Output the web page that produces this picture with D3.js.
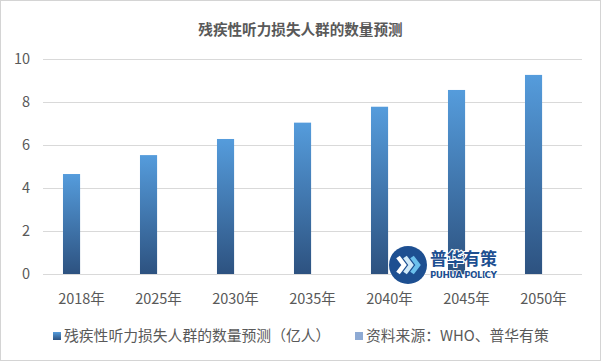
<!DOCTYPE html>
<html>
<head>
<meta charset="utf-8">
<script src="https://cdn.jsdelivr.net/npm/d3@7"></script>
<style>
  html, body { margin: 0; padding: 0; background: #fff; }
  svg text { font-family: "Noto Sans CJK SC", "Microsoft YaHei", sans-serif; fill: #595959; }
</style>
</head>
<body>
<div id="chart"></div>
<script>
const years = ["2018年", "2025年", "2030年", "2035年", "2040年", "2045年", "2050年"];
const values = [4.65, 5.53, 6.28, 7.04, 7.78, 8.56, 9.26];
const seriesNames = ["残疾性听力损失人群的数量预测（亿人）", "资料来源：WHO、普华有策"];
const yTicks = [0, 2, 4, 6, 8, 10];
const chartTitle = "残疾性听力损失人群的数量预测";

const width = 601, height = 361;
const plotLeft = 43, plotRight = 582, plotTop = 59, plotBottom = 274;

const svg = d3.select("#chart").append("svg")
  .attr("width", width)
  .attr("height", height);

const defs = svg.append("defs");
const grad = defs.append("linearGradient")
  .attr("id", "barGrad")
  .attr("x1", 0).attr("y1", 0).attr("x2", 0).attr("y2", 1);
grad.append("stop").attr("offset", "0%").attr("stop-color", "#559cdc");
grad.append("stop").attr("offset", "100%").attr("stop-color", "#2d5280");

// frame
svg.append("rect")
  .attr("x", 0.5).attr("y", 0.5)
  .attr("width", width - 1).attr("height", height - 1)
  .attr("fill", "#fff")
  .attr("stroke", "#d4d4d4");

const x = d3.scaleBand().domain(years).range([plotLeft, plotRight]).paddingInner(0);
// two series slots per year (second series has no bars)
const x1 = d3.scaleBand().domain(seriesNames).range([0, x.bandwidth()])
  .paddingInner(0).paddingOuter(1.25).align(0.467);
const y = d3.scaleLinear().domain([0, 10]).range([plotBottom, plotTop]);

// title
svg.append("text")
  .attr("x", width / 2).attr("y", 35)
  .attr("text-anchor", "middle")
  .attr("font-size", 14.6).attr("font-weight", "bold")
  .text(chartTitle);

// grid lines
svg.append("g")
  .selectAll("line")
  .data(yTicks)
  .enter()
  .append("line")
  .attr("x1", plotLeft).attr("x2", plotRight)
  .attr("y1", (d) => Math.round(y(d)) + 0.5)
  .attr("y2", (d) => Math.round(y(d)) + 0.5)
  .attr("stroke", "#d9d9d9");

// y labels
svg.append("g")
  .selectAll("text")
  .data(yTicks)
  .enter()
  .append("text")
  .attr("x", 30)
  .attr("y", (d) => y(d))
  .attr("dy", "0.36em")
  .attr("text-anchor", "end")
  .attr("font-size", 14.5)
  .text((d) => d);

// bars
svg.append("g")
  .selectAll("rect")
  .data(values)
  .enter()
  .append("rect")
  .attr("x", (d, i) => x(years[i]) + x1(seriesNames[0]))
  .attr("width", x1.bandwidth())
  .attr("y", (d) => y(d))
  .attr("height", (d) => y(0) - y(d))
  .attr("fill", "url(#barGrad)");

// x labels
svg.append("g")
  .selectAll("text")
  .data(years)
  .enter()
  .append("text")
  .attr("x", (d) => x(d) + x.bandwidth() / 2)
  .attr("y", 304)
  .attr("text-anchor", "middle")
  .attr("font-size", 14.5)
  .text((d) => d);

// legend
const legendX = [53, 355];
const legendFill = ["url(#barGrad)", "#8eaad4"];
const legend = svg.append("g")
  .selectAll("g")
  .data(seriesNames)
  .enter()
  .append("g")
  .attr("transform", (d, i) => `translate(${legendX[i]},332)`);
legend.append("rect")
  .attr("width", 8).attr("height", 8)
  .attr("fill", (d, i) => legendFill[i]);
legend.append("text")
  .attr("x", 11).attr("y", 4)
  .attr("dy", "0.36em")
  .attr("font-size", 14.8)
  .text((d) => d);

// watermark logo
const logo = svg.append("g").attr("transform", "translate(408,265)");
logo.append("circle").attr("r", 19).attr("fill", "#1d4f91");
const chevronColors = ["#ffffff", "#cfe9f8", "#6cc0ec"];
chevronColors.forEach((c, i) => {
  const ox = -10 + i * 7;
  logo.append("path")
    .attr("d", `M${ox},-8 L${ox + 6},0 L${ox},8`)
    .attr("fill", "none")
    .attr("stroke", c)
    .attr("stroke-width", 4.5)
    .attr("stroke-linejoin", "miter");
});
svg.append("text")
  .attr("x", 430).attr("y", 265)
  .attr("font-size", 17).attr("font-weight", "bold")
  .attr("textLength", 67)
  .style("fill", "#1d4f91")
  .style("stroke", "#fff").style("stroke-width", 2).style("paint-order", "stroke")
  .text("普华有策");
svg.append("text")
  .attr("x", 430).attr("y", 277.5)
  .attr("font-size", 9).attr("font-weight", "bold")
  .attr("textLength", 67)
  .style("font-family", "'DejaVu Sans', sans-serif")
  .style("fill", "#1d4f91")
  .style("stroke", "#fff").style("stroke-width", 1.5).style("paint-order", "stroke")
  .text("PUHUA POLICY");
</script>
</body>
</html>
